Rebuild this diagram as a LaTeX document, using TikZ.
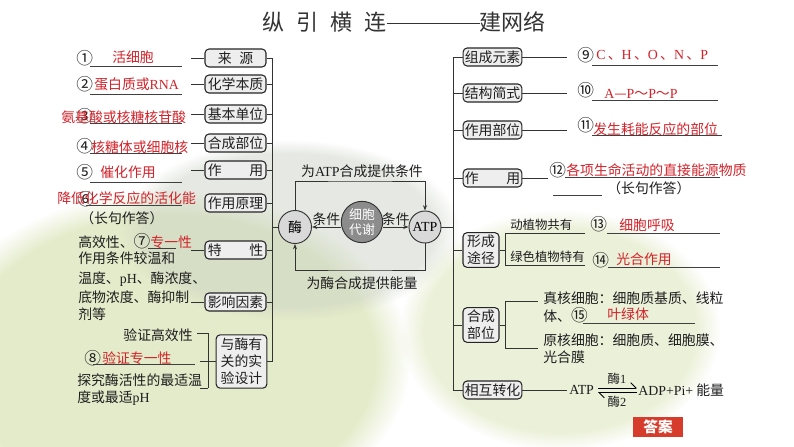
\documentclass[tikz,border=0pt]{standalone}
\usepackage{fontspec}
\setmainfont{Noto Sans CJK SC}
\newfontfamily\lat{Liberation Serif}
\usetikzlibrary{arrows.meta,calc,fadings}
\definecolor{ansred}{HTML}{D2232A}
\definecolor{txt}{HTML}{1E1E1E}
\definecolor{boxfill}{HTML}{EEEEEE}
\definecolor{btnred}{HTML}{D63B2B}
\definecolor{leafA}{HTML}{D9E3B4}
\definecolor{leafB}{HTML}{C8D0C2}
\newcommand{\cnum}[1]{{\fontsize{12.5}{12.5}\selectfont #1}}
\tikzset{
  lbox/.style={draw=black!85, fill=boxfill, rounded corners=3pt, line width=0.8pt, inner sep=1pt, minimum height=13.5pt, text=txt},
  tx/.style={anchor=west, inner sep=0pt, text=txt},
  rtx/.style={anchor=west, inner sep=0pt, text=ansred},
  ln/.style={line width=0.6pt, draw=black!80},
  ul/.style={line width=0.6pt, draw=black!75},
  circ/.style={circle, draw=black!80, line width=0.7pt, inner sep=0pt},
  arr/.style={line width=0.6pt, draw=black!80, -{Stealth[length=4pt,width=3pt]}},
}
\begin{document}
\begin{tikzpicture}[x=0.75pt,y=-0.75pt, font=\fontsize{10.4}{13}\selectfont]
\useasboundingbox (0,0) rectangle (794,447);
\fill[white] (0,0) rectangle (794,447);
% soft background
\fill[leafA, opacity=0.7, path fading=circle with fuzzy edge 15 percent] (170,360) ellipse (240 and 170);
\fill[leafB, opacity=0.45, path fading=circle with fuzzy edge 15 percent] (290,230) ellipse (170 and 90);
\fill[leafA, opacity=0.5, path fading=circle with fuzzy edge 15 percent] (560,330) ellipse (160 and 120);

% title
\node[anchor=west, inner sep=0pt, text=black!80, font=\fontsize{16.5}{18}\selectfont] (title) at (262,22)
  {纵\hspace{0.55em}引\hspace{0.55em}横\hspace{0.55em}连\rule[0.32em]{70pt}{0.5pt}建网络};

% ---------- left boxes ----------
\node[lbox, minimum width=45.75pt] (lai) at (235.5,58) {来\hspace{0.55em}源};
\node[lbox, minimum width=45.75pt] (hx) at (235.5,84) {化学本质};
\node[lbox, minimum width=45.75pt] (jb) at (235.5,114) {基本单位};
\node[lbox, minimum width=45.75pt] (hc) at (235.5,143) {合成部位};
\node[lbox, minimum width=45.75pt] (zy) at (235.5,170) {\makebox[4em][s]{作\hfill 用}};
\node[lbox, minimum width=45.75pt] (yl) at (235.5,203) {作用原理};
\node[lbox, minimum width=45.75pt] (tx) at (235.5,250) {\makebox[4em][s]{特\hfill 性}};
\node[lbox, minimum width=45.75pt] (yx) at (235.5,302) {影响因素};
\node[lbox, minimum width=38pt, minimum height=40pt, align=center, font=\fontsize{10.4}{12.6}\selectfont] (sy) at (241.5,361.5) {与酶有\\关的实\\验设计};

% left bracket
\coordinate (LT) at (272,58);
\coordinate (LB) at (272,362);
\draw[ln] (LT) -- (LB);
\foreach \n in {lai,hx,jb,hc,zy,yl,tx,yx,sy} { \draw[ln] (\n.east) -- (\n.east -| LT); }
% ticks to the left
\foreach \n in {lai,hx,jb,hc,zy,tx,yx} { \draw[ln] (\n.west) -- ++(-13,0); }

% left texts
\node[tx] (c1) at (76,58) {\cnum{①}};
\node[rtx] (a1) at (112,57) {活细胞};
\draw[ul] (90,66) -- (182,66);
\node[tx] (c2) at (76,84) {\cnum{②}};
\node[rtx] (a2) at (94,84) {蛋白质或{\lat RNA}};
\draw[ul] (90,94) -- (182,94);
\node[tx] (c3) at (76,116) {\cnum{③}};
\node[rtx] (a3) at (61,117) {氨基酸或核糖核苷酸};
\draw[ul] (90,123) -- (182,123);
\node[tx] (c4) at (76,146) {\cnum{④}};
\node[rtx] (a4) at (91,147) {核糖体或细胞核};
\draw[ul] (90,153) -- (182,153);
\node[tx] (c5) at (76,172) {\cnum{⑤}};
\node[rtx] (a5) at (100,172) {催化作用};
\draw[ul] (90,182) -- (182,182);
\node[tx] (c6) at (77,199) {\cnum{⑥}};
\node[rtx] (a6) at (57,198) {降低化学反应的活化能};
\draw[ul] (86,205) -- (182,205);
\node[tx] (b6) at (80,218) {（长句作答）};
\node[tx] (t7) at (78,241) {高效性、\cnum{⑦}\textcolor{ansred}{专一性}};
\draw[ul] (148,248) -- (176,248);
\node[tx] (t7b) at (78,258) {作用条件较温和};
\node[tx] (t8a) at (78,279) {温度、{\lat pH}、酶浓度、};
\node[tx] (t8b) at (78,297) {底物浓度、酶抑制};
\node[tx] (t8c) at (78,314) {剂等};

% experiment
\node[tx, anchor=east] (e1) at (193,335) {验证高效性};
\node[tx] (c8) at (84,358) {\cnum{⑧}};
\node[rtx] (a8) at (102,358) {验证专一性};
\draw[ul] (93,364) -- (195,364);
\node[tx] (e3) at (77,380) {探究酶活性的最适温};
\node[tx] (e4) at (77,398) {度或最适{\lat pH}};
\coordinate (ET) at (208,333);
\coordinate (EB) at (208,388);
\draw[ln] (ET) -- (EB);
\draw[ln] (ET) -- ++(-11,0);
\draw[ln] (EB) -- ++(-8,0);
\draw[ln] (sy.west) -- ++(-16,0);

% ---------- centre ----------
\node[circ, fill=black!15, minimum size=24.75pt] (mei) at (295,227) {酶};
\node[circ, fill=black!45, minimum size=31pt, text=white, align=center, font=\fontsize{9.6}{10.8}\selectfont] (xb) at (362,222) {细胞\\代谢};
\node[circ, fill=black!15, minimum size=24pt] (atp) at (425,227) {\lat ATP};
\draw[arr] (xb.west |- mei) -- (mei.east) node[midway, above=0pt, inner sep=1pt, text=txt] {条件};
\draw[arr] (xb.east |- atp) -- (atp.west) node[midway, above=0pt, inner sep=1pt, text=txt] {条件};
\coordinate (TL) at (360,181);
\coordinate (BL) at (360,270);
\draw[arr] (mei.north) |- (TL) -| (atp.north);
\draw[arr] (atp.south) |- (BL) -| (mei.south);
\node[text=txt, inner sep=0pt] (lt) at (362,171) {为{\lat ATP}合成提供条件};
\node[text=txt, inner sep=0pt] (lb) at (362,283) {为酶合成提供能量};
\draw[ln] (mei.west) -- (mei.west -| LT);

% ---------- right ----------
\coordinate (RT) at (453,57);
\coordinate (RB) at (453,390);
\draw[ln] (RT) -- (RB);
\draw[ln] (atp.east) -- (atp.east -| RT);
\node[lbox, minimum width=44pt] (zc) at (492.5,57) {组成元素};
\node[lbox, minimum width=44pt] (jg) at (492.5,93) {结构简式};
\node[lbox, minimum width=44pt] (bw) at (492.5,130) {作用部位};
\node[lbox, minimum width=44pt] (zy2) at (492.5,178) {\makebox[4em][s]{作\hfill 用}};
\node[lbox, minimum width=27pt, minimum height=26pt, align=center, font=\fontsize{10.4}{12.6}\selectfont] (xc) at (481,250) {形成\\途径};
\node[lbox, minimum width=27pt, minimum height=26pt, align=center, font=\fontsize{10.4}{12.6}\selectfont] (hb) at (481,325) {合成\\部位};
\node[lbox, minimum width=44pt] (zh) at (492.5,390) {相互转化};
\foreach \n in {zc,jg,bw,zy2,xc,hb,zh} { \draw[ln] (\n.west) -- (\n.west -| RT); }

\draw[ln] (zc.east) -- ++(45,0);
\node[tx] (c9) at (577,55) {\cnum{⑨}};
\node[rtx] (a9) at (596,55) {\lat C\,\textrm{、}H\,\textrm{、}O\,\textrm{、}N\,\textrm{、}P};
\draw[ul] (592,65) -- (718,65);
\draw[ln] (jg.east) -- ++(45,0);
\node[tx] (c10) at (577,90) {\cnum{⑩}};
\node[rtx] (a10) at (604,94) {{\lat A}—{\lat P}～{\lat P}～{\lat P}};
\draw[ul] (592,100) -- (718,100);
\draw[ln] (bw.east) -- ++(45,0);
\node[tx] (c11) at (577,125) {\cnum{⑪}};
\node[rtx] (a11) at (593,129) {发生耗能反应的部位};
\draw[ul] (592,135) -- (722,135);
\draw[ln] (zy2.east) -- ++(26,0);
\node[tx] (c12) at (549,170) {\cnum{⑫}};
\node[rtx] (a12) at (566,170) {各项生命活动的直接能源物质};
\draw[ul] (565,177) -- (720,177);
\node[tx] (b12) at (607,188) {（长句作答）};
\draw[ul] (553,195) -- (602,195);

% formation
\coordinate (FT) at (505,233);
\coordinate (FB) at (505,265);
\draw[ln] (xc.east) -- (xc.east -| FT);
\draw[ln] (FT) -- (FB);
\draw[ln] (FT) -- ++(80,0);
\draw[ln] (FB) -- ++(80,0);
\node[tx, font=\fontsize{9.3}{11}\selectfont] (f1) at (510,225) {动植物共有};
\node[tx, font=\fontsize{9.3}{11}\selectfont] (f2) at (510,257) {绿色植物特有};
\node[tx] (c13) at (590,224) {\cnum{⑬}};
\node[rtx] (a13) at (619,225) {细胞呼吸};
\draw[ul] (607,233) -- (720,233);
\node[tx] (c14) at (592,260) {\cnum{⑭}};
\node[rtx] (a14) at (616,259) {光合作用};
\draw[ul] (608,267) -- (720,267);

% synthesis site
\coordinate (ST) at (505,301);
\coordinate (SB) at (505,348);
\draw[ln] (hb.east) -- (hb.east -| ST);
\draw[ln] (ST) -- (SB);
\draw[ln] (ST) -- ++(33,0);
\draw[ln] (SB) -- ++(33,0);
\node[tx] (s1) at (543,298) {真核细胞：细胞质基质、线粒};
\node[tx] (s2) at (543,315) {体、\cnum{⑮}};
\node[rtx] (a15) at (607,314) {叶绿体};
\draw[ul] (583,323) -- (695,323);
\node[tx] (s3) at (543,340) {原核细胞：细胞质、细胞膜、};
\node[tx] (s4) at (543,357) {光合膜};

% interconversion
\draw[ln] (zh.east) -- ++(45,0);
\node[tx] (atp2) at (569,390) {\lat ATP};
\coordinate (H1) at (598,388);
\coordinate (H2) at (637,388);
\coordinate (H3) at (598,392.5);
\coordinate (H4) at (637,392.5);
\draw[line width=0.6pt, -{Straight Barb[left, length=4pt]}] (H1) -- (H2);
\draw[line width=0.6pt, -{Straight Barb[left, length=4pt]}] (H4) -- (H3);
\node[text=txt, inner sep=0pt, font=\fontsize{9.3}{11}\selectfont] (m1) at (617,379) {酶{\lat 1}};
\node[text=txt, inner sep=0pt, font=\fontsize{9.3}{11}\selectfont] (m2) at (617,402) {酶{\lat 2}};
\node[tx] (adp) at (638,390) {{\lat ADP+Pi+} 能量};

% answer button
\node[fill=btnred, text=white, minimum width=37.5pt, minimum height=15pt, inner sep=0pt, font=\bfseries\fontsize{11}{12}\selectfont] (daan) at (658,427) {答案};
\end{tikzpicture}
\end{document}
